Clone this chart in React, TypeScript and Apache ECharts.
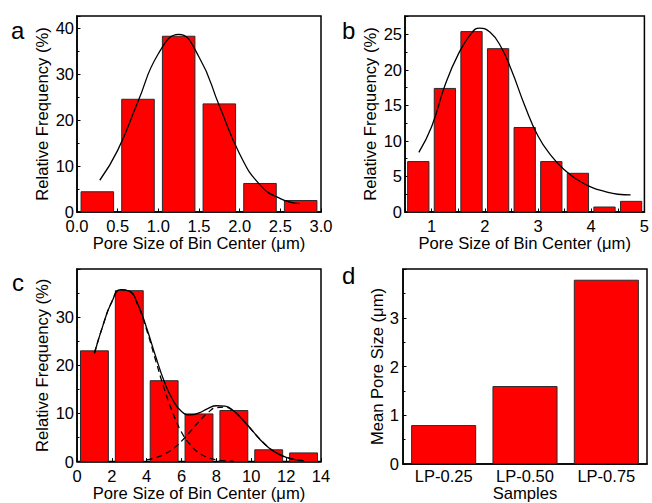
import React, { useEffect, useRef } from 'react';
import * as echarts from 'echarts';

// Panel a
const aCenters = [0.25, 0.75, 1.25, 1.75, 2.25, 2.75];
const aValues = [4.4, 24.5, 38.2, 23.5, 6.2, 2.5];
const aFitX = [0.28, 0.5, 0.75, 1.0, 1.25, 1.5, 1.75, 2.0, 2.25, 2.5, 2.74];
const aFitY = [6.9, 13.4, 24.0, 34.4, 38.6, 33.7, 23.1, 12.6, 5.9, 2.9, 1.8];

// Panel b
const bCenters = [0.75, 1.25, 1.75, 2.25, 2.75, 3.25, 3.75, 4.25, 4.75];
const bValues = [7.1, 17.4, 25.4, 23.0, 11.9, 7.1, 5.45, 0.7, 1.5];
const bFitX = [0.76, 1.0, 1.25, 1.5, 1.75, 1.9, 2.1, 2.3, 2.5, 2.75, 3.0, 3.25, 3.5, 3.75, 4.0, 4.25, 4.5, 4.74];
const bFitY = [8.4, 12.0, 17.8, 22.2, 25.2, 25.9, 25.3, 23.3, 20.0, 15.0, 10.7, 7.9, 5.9, 4.5, 3.5, 2.9, 2.5, 2.4];

// Panel c
const cCenters = [1, 3, 5, 7, 9, 11, 13];
const cValues = [23.0, 35.5, 16.8, 9.9, 10.6, 2.45, 1.8];
const cSumX = [1, 1.5, 2, 2.5, 3, 3.5, 4, 4.5, 5, 5.5, 6, 6.5, 7, 7.5, 8, 8.5, 9, 9.5, 10, 10.5, 11, 11.5, 12, 12.5, 13];
const cSumY = [22.5, 28.4, 33.2, 35.7, 35.4, 32.6, 27.7, 22.0, 16.7, 12.8, 10.4, 9.7, 10.1, 11.0, 11.6, 11.5, 10.5, 8.7, 6.7, 4.6, 2.9, 1.7, 0.9, 0.4, 0.2];
const cPeak1X = [1, 1.5, 2, 2.5, 3, 3.5, 4, 4.5, 5, 5.5, 6, 6.5, 7, 7.5, 8, 8.5, 9];
const cPeak1Y = [22.5, 28.4, 33.2, 35.7, 35.4, 32.4, 27.3, 21.2, 15.2, 10.1, 6.1, 3.5, 1.8, 0.86, 0.38, 0.15, 0.06];
const cPeak2X = [4, 4.5, 5, 5.5, 6, 6.5, 7, 7.5, 8, 8.5, 9, 9.5, 10, 10.5, 11, 11.5, 12, 12.5, 13];
const cPeak2Y = [0.37, 0.78, 1.51, 2.66, 4.26, 6.24, 8.33, 10.1, 11.2, 11.3, 10.4, 8.72, 6.66, 4.64, 2.94, 1.7, 0.89, 0.43, 0.19];

// Panel d
const dSamples = ['LP-0.25', 'LP-0.50', 'LP-0.75'];
const dMeans = [0.8, 1.6, 3.78];

const FONT = '"Liberation Sans", Arial, sans-serif';

const pairs = (xs: number[], ys: number[]) => xs.map((x, i) => [x, ys[i]]);

const barRender = (w: number) => (_p: any, api: any) => {
  const c = api.value(0);
  const v = api.value(1);
  const p0 = api.coord([c - w / 2, v]);
  const p1 = api.coord([c + w / 2, 0]);
  return {
    type: 'rect',
    shape: { x: p0[0], y: p0[1], width: p1[0] - p0[0], height: p1[1] - p0[1] },
    style: { fill: '#ff0000', stroke: '#2a2a2a', lineWidth: 1 },
  };
};

const tickStyle = {
  axisLine: { show: true, lineStyle: { color: '#000', width: 1.5 } },
  axisTick: { show: true, inside: true, length: 3.5, lineStyle: { color: '#000', width: 1 } },
  splitLine: { show: false },
};

function valueAxis(grid: number, min: number, max: number, interval: number, fmt: (v: number) => string, name: string, nameGap: number, margin: number, minor: boolean, lineHeight: number) {
  return {
    type: 'value',
    gridIndex: grid,
    min,
    max,
    interval,
    name,
    nameLocation: 'middle',
    nameGap,
    nameTextStyle: { fontFamily: FONT, fontSize: 16.6, color: '#000' },
    axisLabel: { fontFamily: FONT, fontSize: 16.5, color: '#000', margin, lineHeight, formatter: fmt },
    minorTick: { show: minor, splitNumber: 2, length: 2.5, lineStyle: { color: '#000', width: 1 } },
    ...tickStyle,
  };
}

export default function App() {
  const ref = useRef<HTMLDivElement>(null);
  useEffect(() => {
    if (!ref.current) return;
    const chart = echarts.init(ref.current, null, { renderer: 'svg' });
    const gridBase = { show: true, borderColor: '#000', borderWidth: 1.5, containLabel: false };
    const fit = (data: number[][], xi: number, dashed = false) => ({
      type: 'line',
      xAxisIndex: xi,
      yAxisIndex: xi,
      data,
      smooth: 0.5,
      symbol: 'none',
      lineStyle: { color: '#000', width: 1.3, type: dashed ? [6, 4] : 'solid' },
      z: 5,
    });
    chart.setOption({
      animation: false,
      backgroundColor: '#fff',
      grid: [
        { ...gridBase, left: 77, top: 16, width: 244, height: 196 },
        { ...gridBase, left: 405, top: 16, width: 242, height: 196 },
        { ...gridBase, left: 77, top: 269, width: 244, height: 196 },
        { ...gridBase, left: 403, top: 269, width: 244, height: 197 },
      ],
      xAxis: [
        valueAxis(0, 0, 3, 0.5, (v) => v.toFixed(1), 'Pore Size of Bin Center (μm)', 20, 7, true, 14),
        valueAxis(1, 0.5, 5, 0.5, (v) => (Math.abs(v - Math.round(v)) < 1e-6 ? String(Math.round(v)) : ''), 'Pore Size of Bin Center (μm)', 20, 7, false, 14),
        valueAxis(2, 0, 14, 2, (v) => String(v), 'Pore Size of Bin Center (μm)', 20, 7, true, 14),
        {
          type: 'category',
          gridIndex: 3,
          data: dSamples,
          name: 'Samples',
          nameLocation: 'middle',
          nameGap: 12,
          nameTextStyle: { fontFamily: FONT, fontSize: 16.6, color: '#000' },
          axisLabel: { fontFamily: FONT, fontSize: 16.5, color: '#000', margin: 3 },
          ...tickStyle,
          axisTick: { show: true, inside: true, alignWithLabel: true, length: 3.5, lineStyle: { color: '#000', width: 1 } },
        },
      ],
      yAxis: [
        valueAxis(0, 0, 42.6, 10, (v) => (v % 10 === 0 ? String(v) : ''), 'Relative Frequency (%)', 26, 3, true, 12),
        valueAxis(1, 0, 27.6, 5, (v) => (v % 5 === 0 ? String(v) : ''), 'Relative Frequency (%)', 26, 3, true, 12),
        valueAxis(2, 0, 40, 10, (v) => (v < 40 ? String(v) : ''), 'Relative Frequency (%)', 26, 3, true, 12),
        valueAxis(3, 0, 4, 1, (v) => (v < 4 ? String(v) : ''), 'Mean Pore Size (μm)', 16, 4, true, 12),
      ],
      series: [
        { type: 'custom', xAxisIndex: 0, yAxisIndex: 0, renderItem: barRender(0.4), data: pairs(aCenters, aValues), encode: { x: 0, y: 1 } },
        fit(pairs(aFitX, aFitY), 0),
        { type: 'custom', xAxisIndex: 1, yAxisIndex: 1, renderItem: barRender(0.4), data: pairs(bCenters, bValues), encode: { x: 0, y: 1 } },
        fit(pairs(bFitX, bFitY), 1),
        { type: 'custom', xAxisIndex: 2, yAxisIndex: 2, renderItem: barRender(1.6), data: pairs(cCenters, cValues), encode: { x: 0, y: 1 } },
        fit(pairs(cPeak1X, cPeak1Y), 2, true),
        fit(pairs(cPeak2X, cPeak2Y), 2, true),
        fit(pairs(cSumX, cSumY), 2),
        {
          type: 'bar',
          xAxisIndex: 3,
          yAxisIndex: 3,
          data: dMeans,
          barWidth: '80%',
          itemStyle: { color: '#ff0000', borderColor: '#2a2a2a', borderWidth: 1 },
        },
      ],
      graphic: [
        { type: 'text', left: 11, top: 18, style: { text: 'a', font: `24px ${FONT}`, fill: '#000' } },
        { type: 'text', left: 342, top: 18, style: { text: 'b', font: `24px ${FONT}`, fill: '#000' } },
        { type: 'text', left: 12, top: 270, style: { text: 'c', font: `24px ${FONT}`, fill: '#000' } },
        { type: 'text', left: 342, top: 263, style: { text: 'd', font: `24px ${FONT}`, fill: '#000' } },
      ],
    });
    return () => chart.dispose();
  }, []);
  return <div ref={ref} style={{ position: 'absolute', left: 0, top: 0, width: 652, height: 503 }} />;
}
